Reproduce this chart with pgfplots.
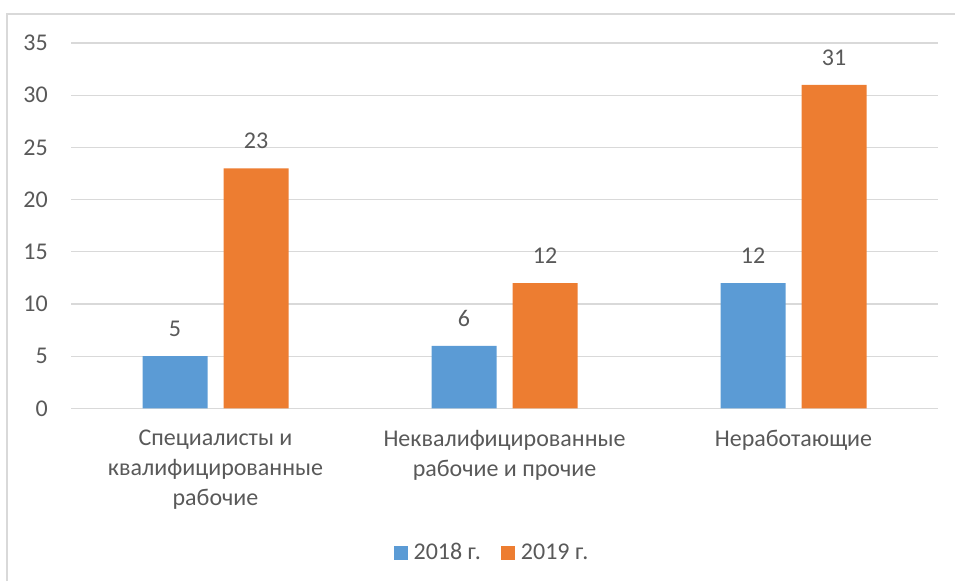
\documentclass[border=0pt]{standalone}
\usepackage{pgfplots}
\pgfplotsset{compat=1.18}
\usepackage{fontspec}
\setmainfont{Carlito}
\definecolor{b1}{HTML}{5B9BD5}
\definecolor{o1}{HTML}{ED7D31}
\definecolor{tg}{HTML}{595959}
\definecolor{gr}{HTML}{D9D9D9}
\begin{document}
\fontsize{24}{30}\selectfont
\begin{tikzpicture}[x=1pt,y=1pt]
\useasboundingbox (0,0) rectangle (955,581);
\draw[gr, line width=1.5pt] (7,0) -- (7,567) -- (955,567);
\begin{axis}[
  at={(71pt,172.6pt)}, anchor=south west,
  scale only axis, width=867pt, height=365.4pt,
  ymin=0, ymax=35, xmin=-0.5, xmax=2.5,
  ytick={0,5,...,35}, xtick={0,1,2},
  xticklabels={{Специалисты и\\квалифицированные\\рабочие},{Неквалифицированные\\рабочие и прочие},{Неработающие}},
  /pgf/number format/assume math mode=true,
  ymajorgrids, grid style={gr, line width=1.3pt},
  axis line style={draw=none}, tick style={draw=none},
  ticklabel style={color=tg, font=\fontsize{24}{30}\selectfont},
  yticklabel style={xshift=-15pt},
  xticklabel style={align=center, yshift=-9pt},
  ybar=16pt, bar width=65pt,
  nodes near coords,
  nodes near coords style={anchor=center, yshift=27pt, color=tg, font=\fontsize{24}{30}\selectfont},
  legend style={at={(0.4855,-0.397)}, anchor=center, draw=none, legend columns=2,
    font=\fontsize{24}{30}\selectfont, text=tg,
    /tikz/every even column/.append style={column sep=18pt},
    /tikz/every odd column/.append style={column sep=4pt}},
  legend image code/.code={\fill[#1] (0pt,-7pt) rectangle (14pt,7pt);},
]
\addplot[fill=b1, draw=none] coordinates {(0,5) (1,6) (2,12)};
\addplot[fill=o1, draw=none] coordinates {(0,23) (1,12) (2,31)};
\legend{2018 г.,2019 г.}
\end{axis}
\end{tikzpicture}
\end{document}
